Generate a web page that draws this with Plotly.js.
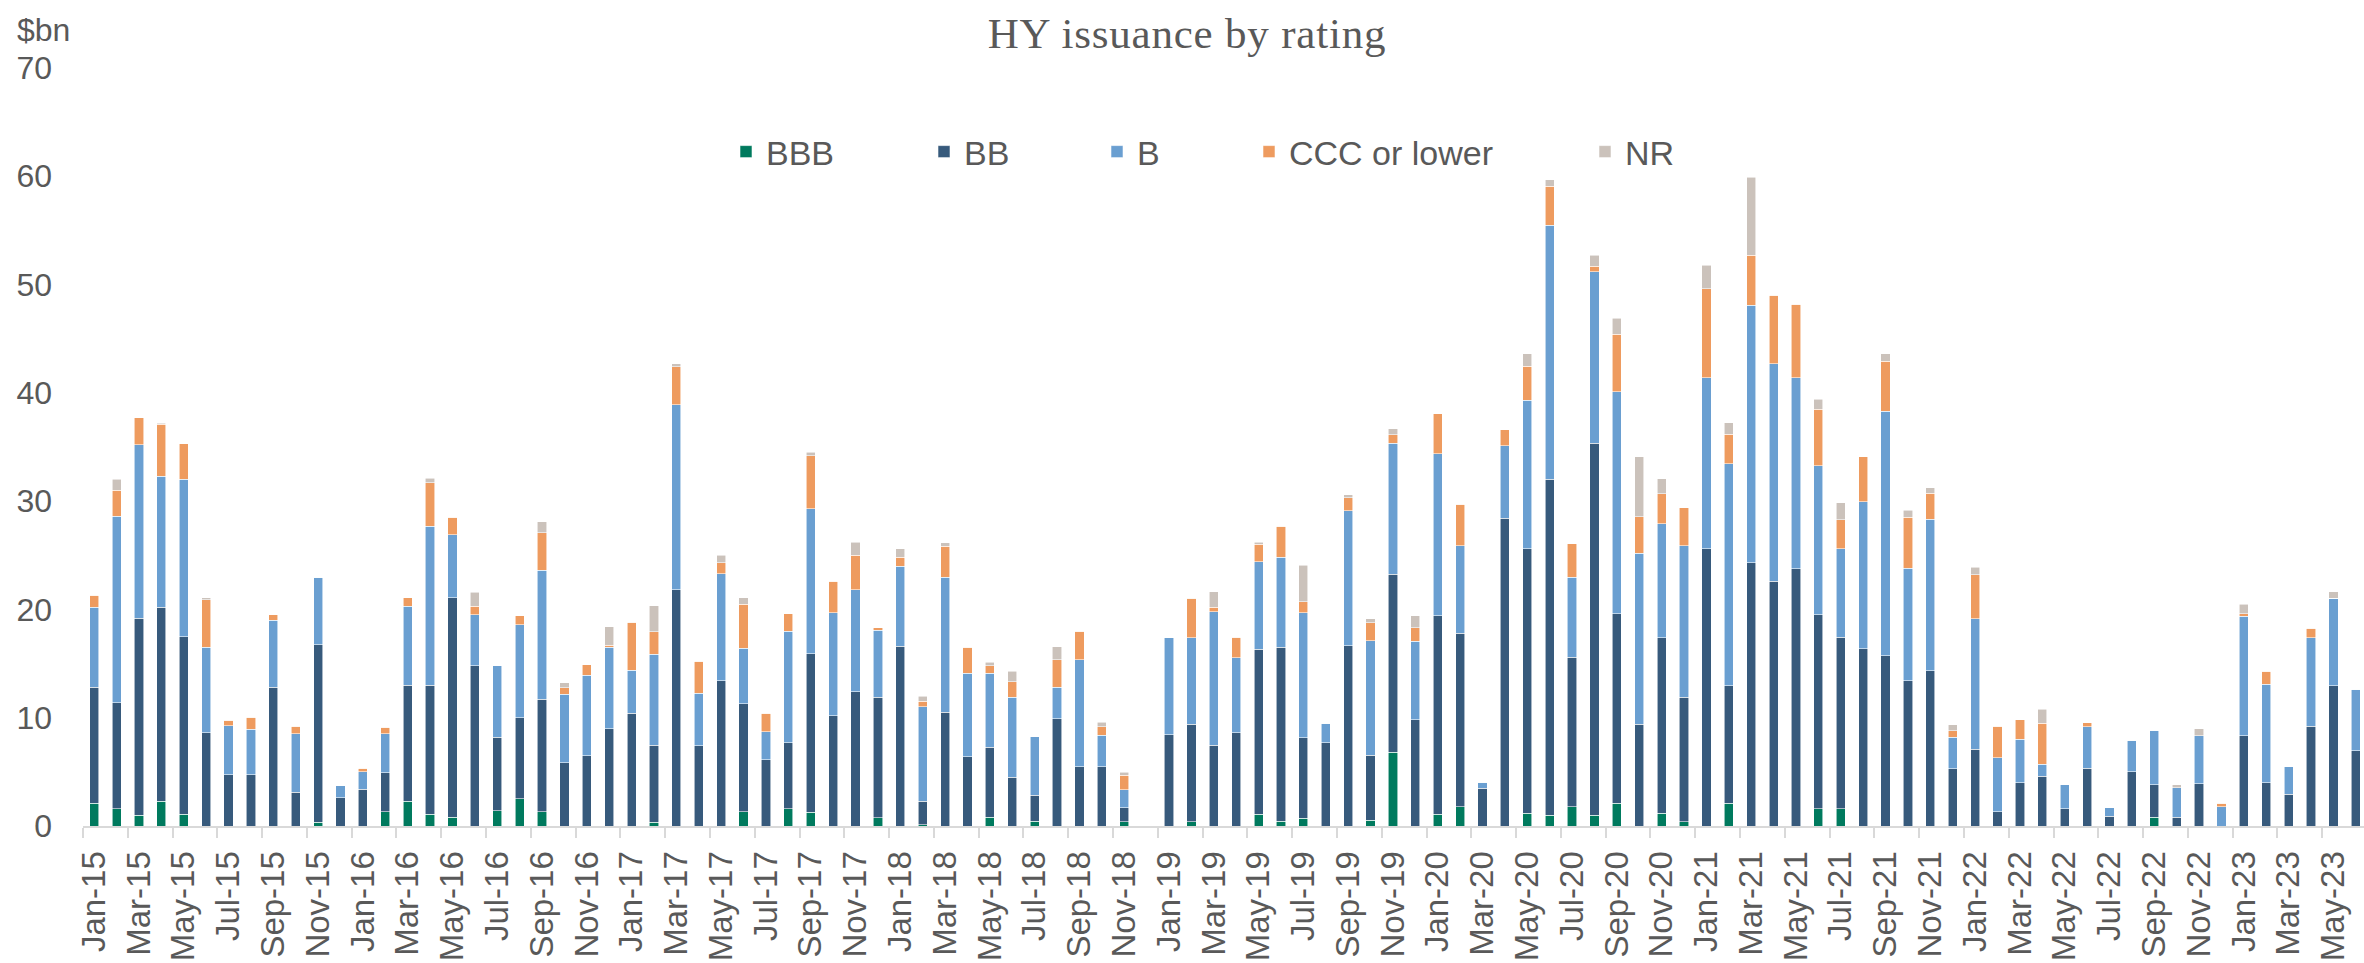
<!DOCTYPE html>
<html>
<head>
<meta charset="utf-8">
<script src="https://cdn.plot.ly/plotly-3.0.1.min.js"></script>
<style>
  html, body { margin: 0; padding: 0; background: #ffffff; overflow: hidden; }
  #chart { width: 2367px; height: 963px; }
  .gtitle { letter-spacing: 0.8px; }
</style>
</head>
<body>
<div id="chart"></div>
<script>
const months = [
  'Jan-15','Feb-15','Mar-15','Apr-15','May-15','Jun-15','Jul-15','Aug-15','Sep-15','Oct-15','Nov-15','Dec-15',
  'Jan-16','Feb-16','Mar-16','Apr-16','May-16','Jun-16','Jul-16','Aug-16','Sep-16','Oct-16','Nov-16','Dec-16',
  'Jan-17','Feb-17','Mar-17','Apr-17','May-17','Jun-17','Jul-17','Aug-17','Sep-17','Oct-17','Nov-17','Dec-17',
  'Jan-18','Feb-18','Mar-18','Apr-18','May-18','Jun-18','Jul-18','Aug-18','Sep-18','Oct-18','Nov-18','Dec-18',
  'Jan-19','Feb-19','Mar-19','Apr-19','May-19','Jun-19','Jul-19','Aug-19','Sep-19','Oct-19','Nov-19','Dec-19',
  'Jan-20','Feb-20','Mar-20','Apr-20','May-20','Jun-20','Jul-20','Aug-20','Sep-20','Oct-20','Nov-20','Dec-20',
  'Jan-21','Feb-21','Mar-21','Apr-21','May-21','Jun-21','Jul-21','Aug-21','Sep-21','Oct-21','Nov-21','Dec-21',
  'Jan-22','Feb-22','Mar-22','Apr-22','May-22','Jun-22','Jul-22','Aug-22','Sep-22','Oct-22','Nov-22','Dec-22',
  'Jan-23','Feb-23','Mar-23','Apr-23','May-23','Jun-23'
];

const bbb = [
  2.1, 1.6, 1.0, 2.3, 1.1, 0, 0, 0, 0, 0, 0.35, 0,
  0, 1.3, 2.3, 1.1, 0.8, 0, 1.4, 2.5, 1.3, 0, 0, 0,
  0, 0.35, 0, 0, 0, 1.3, 0, 1.6, 1.25, 0, 0, 0.77,
  0, 0.1, 0, 0, 0.8, 0, 0.45, 0, 0, 0, 0.4, 0,
  0, 0.4, 0, 0, 1.1, 0.45, 0.7, 0, 0, 0.55, 6.8, 0,
  1.1, 1.8, 0, 0, 1.2, 1.0, 1.8, 1.0, 2.1, 0, 1.2, 0.4,
  0, 2.1, 0, 0, 0, 1.6, 1.6, 0, 0, 0, 0, 0,
  0, 0, 0, 0, 0, 0, 0, 0, 0.8, 0, 0, 0,
  0, 0, 0, 0, 0, 0
];

const bb = [
  10.7, 9.8, 18.2, 17.9, 16.4, 8.6, 4.75, 4.75, 12.8, 3.1, 16.4, 2.6,
  3.4, 3.6, 10.7, 11.9, 20.3, 14.8, 6.8, 7.5, 10.4, 5.85, 6.5, 9.0,
  10.4, 7.1, 21.8, 7.4, 13.4, 10.0, 6.1, 6.1, 14.65, 10.2, 12.4, 11.1,
  16.6, 2.2, 10.5, 6.4, 6.45, 4.5, 2.4, 9.9, 5.45, 5.45, 1.3, 0,
  8.45, 9.0, 7.45, 8.6, 15.2, 16.05, 7.45, 7.7, 16.65, 6.0, 16.45, 9.8,
  18.3, 16.0, 3.5, 28.4, 24.4, 31.0, 13.8, 34.35, 17.5, 9.4, 16.2, 11.5,
  25.6, 10.85, 24.3, 22.6, 23.75, 17.9, 15.85, 16.35, 15.7, 13.4, 14.35, 5.3,
  7.1, 1.3, 4.0, 4.6, 1.6, 5.35, 0.9, 5.0, 3.0, 0.8, 3.9, 0,
  8.35, 4.0, 2.95, 9.2, 12.95, 6.95
];

const b = [
  7.4, 17.2, 16.0, 12.1, 14.5, 7.9, 4.5, 4.2, 6.2, 5.4, 6.2, 1.1,
  1.6, 3.6, 7.3, 14.7, 5.8, 4.7, 6.6, 8.6, 11.9, 6.3, 7.4, 7.5,
  4.0, 8.4, 17.1, 4.85, 9.9, 5.1, 2.6, 10.3, 13.4, 9.5, 9.4, 6.2,
  7.4, 8.7, 12.45, 7.7, 6.85, 7.4, 5.4, 2.9, 9.9, 2.95, 1.65, 0,
  8.95, 8.0, 12.35, 6.95, 8.1, 8.3, 11.55, 1.8, 12.45, 10.55, 12.1, 7.25,
  15.0, 8.1, 0.55, 6.7, 13.7, 23.5, 7.35, 15.85, 20.5, 15.8, 10.5, 14.0,
  15.8, 20.5, 23.8, 20.1, 17.65, 13.75, 8.15, 13.6, 22.6, 10.4, 14.0, 2.9,
  12.05, 5.0, 4.0, 1.1, 2.2, 3.8, 0.8, 2.9, 5.05, 2.75, 4.45, 1.8,
  11.0, 9.1, 2.5, 8.2, 8.1, 5.7
];

const ccc = [
  1.1, 2.4, 2.5, 4.8, 3.3, 4.4, 0.5, 1.1, 0.5, 0.7, 0, 0,
  0.35, 0.6, 0.8, 4.0, 1.6, 0.8, 0, 0.8, 3.5, 0.6, 1.0, 0.2,
  4.4, 2.1, 3.5, 2.95, 1.0, 4.1, 1.7, 1.6, 4.9, 2.9, 3.2, 0.25,
  0.8, 0.5, 2.9, 2.4, 0.7, 1.4, 0, 2.55, 2.65, 0.75, 1.35, 0,
  0, 3.65, 0.4, 1.9, 1.6, 2.9, 1.0, 0, 1.2, 1.65, 0.8, 1.25,
  3.65, 3.8, 0, 1.5, 3.15, 3.6, 3.1, 0.5, 5.3, 3.35, 2.8, 3.5,
  8.2, 2.75, 4.6, 6.3, 6.8, 5.25, 2.7, 4.15, 4.6, 4.7, 2.4, 0.6,
  4.05, 2.9, 1.8, 3.8, 0, 0.4, 0, 0, 0, 0, 0, 0.3,
  0.25, 1.2, 0, 0.85, 0, 0
];

const nr = [
  0, 1.0, 0, 0.1, 0, 0.2, 0, 0, 0, 0, 0, 0,
  0, 0, 0, 0.4, 0, 1.3, 0, 0, 1.0, 0.5, 0, 1.7,
  0, 2.4, 0.3, 0, 0.7, 0.6, 0, 0, 0.3, 0, 1.2, 0,
  0.8, 0.5, 0.3, 0, 0.3, 1.0, 0, 1.2, 0, 0.45, 0.25, 0,
  0, 0, 1.45, 0, 0.2, 0, 3.4, 0, 0.3, 0.4, 0.55, 1.1,
  0, 0, 0, 0, 1.15, 0.6, 0, 1.0, 1.5, 5.55, 1.35, 0,
  2.2, 1.05, 7.2, 0, 0, 0.9, 1.55, 0, 0.7, 0.65, 0.5, 0.55,
  0.7, 0, 0, 1.3, 0, 0, 0, 0, 0, 0.25, 0.65, 0,
  0.9, 0, 0, 0, 0.6, 0
];

const seriesNames = ['BBB', 'BB', 'B', 'CCC or lower', 'NR'];
const seriesValues = [bbb, bb, b, ccc, nr];
const seriesColors = ['#007A5E', '#375A7C', '#6A9FD1', '#EE9B5F', '#CBC2BB'];
const legendIds = ['legend', 'legend2', 'legend3', 'legend4', 'legend5'];
const legendLeft = [726, 924, 1097, 1249, 1585];

const W = 2367, H = 963;
const ML = 83, MT = 68, MB = 137;
const PW = W - ML, PH = H - MT - MB;
const txt = '#595959';

const traces = seriesNames.map((name, i) => ({
  type: 'bar',
  name: name,
  x: months,
  y: seriesValues[i],
  legend: legendIds[i],
  marker: { color: seriesColors[i], line: { color: 'rgba(255,255,255,0.7)', width: 0.8 } },
  hoverinfo: 'x+y+name'
}));

const layout = {
  width: W,
  height: H,
  margin: { l: ML, r: 0, t: MT, b: MB, pad: 0, autoexpand: false },
  paper_bgcolor: '#ffffff',
  plot_bgcolor: '#ffffff',
  barmode: 'stack',
  bargap: 0.59,
  showlegend: true,
  title: {
    text: 'HY issuance by rating',
    font: { family: 'Liberation Serif', size: 43, color: txt },
    x: 1187 / W, xref: 'container', xanchor: 'center',
    y: 1 - 33 / H, yref: 'container', yanchor: 'middle'
  },
  xaxis: {
    type: 'category',
    tickmode: 'linear', tick0: 0, dtick: 2,
    tickangle: -90,
    tickson: 'boundaries',
    ticks: 'outside', ticklen: 10, tickwidth: 2, tickcolor: '#d9d9d9',
    ticklabelstandoff: 10,
    showline: true, linecolor: '#d9d9d9', linewidth: 2,
    showgrid: false, zeroline: false,
    tickfont: { family: 'Liberation Sans', size: 33, color: txt },
    range: [-0.5, months.length - 0.5],
    fixedrange: true
  },
  yaxis: {
    range: [0, 70],
    tickmode: 'linear', tick0: 0, dtick: 10,
    showgrid: false, zeroline: false, showline: false,
    ticks: '',
    ticklabelstandoff: 30,
    tickfont: { family: 'Liberation Sans', size: 32, color: txt },
    fixedrange: true
  },
  annotations: [{
    text: '$bn',
    xref: 'paper', yref: 'paper',
    x: (15 - ML) / PW, xanchor: 'left',
    y: (H - MB - 30) / PH, yanchor: 'middle',
    showarrow: false,
    font: { family: 'Liberation Sans', size: 32, color: txt }
  }]
};

legendIds.forEach((id, i) => {
  layout[id] = {
    xref: 'paper', yref: 'paper',
    x: (legendLeft[i] - ML) / PW, xanchor: 'left',
    y: (H - MB - 152) / PH, yanchor: 'middle',
    orientation: 'h',
    bgcolor: 'rgba(0,0,0,0)',
    borderwidth: 0,
    font: { family: 'Liberation Sans', size: 34, color: txt }
  };
});

Plotly.newPlot('chart', traces, layout, { displayModeBar: false, staticPlot: true });
</script>
</body>
</html>
